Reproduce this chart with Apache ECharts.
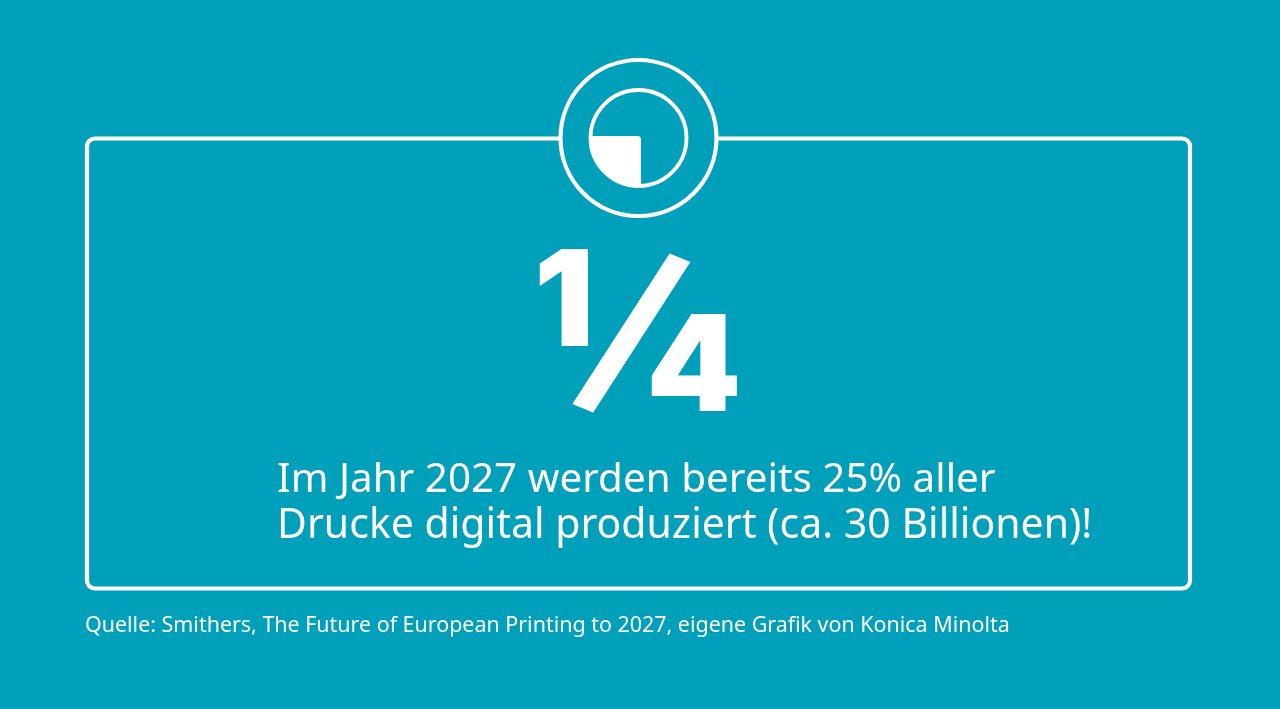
<!DOCTYPE html>
<html><head><meta charset="utf-8">
<style>html,body{margin:0;padding:0;background:#00a0bb;overflow:hidden}#c{width:1280px;height:709px}</style>
<script src="https://cdn.jsdelivr.net/npm/echarts@6/dist/echarts.min.js"></script>
</head><body><div id="c"></div>
<script>
const sliceNames = ['Digital', 'Andere'];
const sliceValues = [25, 75];
const fractionParts = ['1', '/', '4'];
const headlineLines = ['Im Jahr 2027 werden bereits 25% aller', 'Drucke digital produziert (ca. 30 Billionen)!'];
const sourceLine = 'Quelle: Smithers, The Future of European Printing to 2027, eigene Grafik von Konica Minolta';

const BG = '#00a0bb', W = '#ffffff', FONT = '"Noto Sans"', HEAVY = 'Inter';
const chart = echarts.init(document.getElementById('c'), null, {renderer:'canvas', width:1280, height:709});
chart.setOption({
  animation:false,
  backgroundColor:BG,
  series:[{
    type:'pie', z:100, silent:true, center:[641,136], radius:[0,51], startAngle:270, clockwise:true,
    label:{show:false}, labelLine:{show:false}, emphasis:{disabled:true},
    data:sliceNames.map((n,i)=>({name:n,value:sliceValues[i],itemStyle:{color:i===0?W:'transparent'}}))
  }],
  graphic:[
    {type:'rect',z:1,shape:{x:87,y:138.5,width:1103,height:450,r:8},style:{fill:'none',stroke:W,lineWidth:4.2}},
    {type:'circle',z:2,shape:{cx:638.5,cy:138,r:78},style:{fill:BG,stroke:W,lineWidth:4.2}},
    {type:'circle',z:3,shape:{cx:638.5,cy:138,r:48},style:{fill:'none',stroke:W,lineWidth:3.8}},
    {type:'polygon',z:200,shape:{points:[[641.5,135.5],[638,135.5],[638,136],[639.15,136.23],[640.1,136.9],[640.77,137.85],[641,139],[641.5,139]]},style:{fill:BG}},
    {type:'text',z:5,x:564,y:306,style:{text:fractionParts[0],fill:W,font:'900 133px '+HEAVY,align:'center',verticalAlign:'middle'}},
    {type:'text',z:5,x:629.5,y:337.7,rotation:-0.396,scaleX:0.9,scaleY:1.35,style:{text:fractionParts[1],fill:W,font:'900 150px '+HEAVY,align:'center',verticalAlign:'middle'}},
    {type:'text',z:5,x:694,y:371,scaleX:1.02,style:{text:fractionParts[2],fill:W,font:'900 133px '+HEAVY,align:'center',verticalAlign:'middle'}},
    {type:'text',z:5,x:277,y:460,style:{text:headlineLines[0],fill:W,font:'400 40.4px '+FONT,verticalAlign:'top'}},
    {type:'text',z:5,x:277,y:506,style:{text:headlineLines[1],fill:W,font:'400 41px '+FONT,verticalAlign:'top'}},
    {type:'text',z:5,x:85,y:615,style:{text:sourceLine,fill:W,font:'400 21.45px '+FONT,verticalAlign:'top'}}
  ]
});
</script></body></html>
